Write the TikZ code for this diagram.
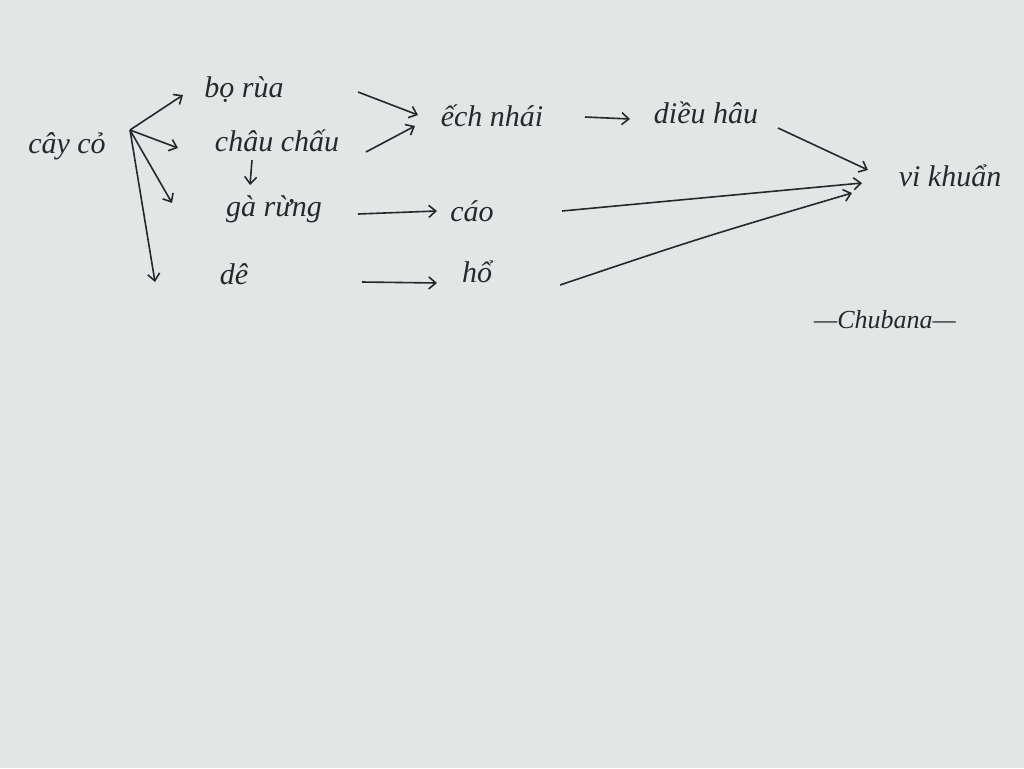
\documentclass[tikz,border=0pt]{standalone}
\usepackage{fontspec}
\setmainfont{Liberation Serif}
\usetikzlibrary{arrows.meta,calc}
\definecolor{paper}{RGB}{228,230,229}
\definecolor{ink}{RGB}{40,40,44}
\begin{document}
\begin{tikzpicture}[x=1pt,y=-1pt,
  lbl/.style={font=\itshape\fontsize{30}{34}\selectfont, text=ink, inner sep=2pt},
  arr/.style={draw=ink, line width=1.6pt, -{Straight Barb[length=7pt,width=12pt]}}]
\fill[paper] (0,0) rectangle (1024,768);
\useasboundingbox (0,0) rectangle (1024,768);
% nodes
\node[lbl] (cayco) at (67,146) {cây cỏ};
\node[lbl] (borua) at (244,90) {bọ rùa};
\node[lbl] (chauchau) at (277,141) {châu chấu};
\node[lbl] (garung) at (274,209) {gà rừng};
\node[lbl] (de) at (234,274) {dê};
\node[lbl] (echnhai) at (492,116) {ếch nhái};
\node[lbl] (dieuhau) at (706,113) {diều hâu};
\node[lbl] (cao) at (472,211) {cáo};
\node[lbl] (ho) at (477,272) {hổ};
\node[lbl] (vikhuan) at (950,176) {vi khuẩn};
\node[lbl, font=\itshape\fontsize{26}{30}\selectfont] (sig) at (885,320) {—Chubana—};
% hub of cây cỏ
\coordinate (hub) at (130,130);
\draw[arr] (hub) -- ($(borua)+(-61,5)$);
\draw[arr] (hub) -- ($(chauchau)+(-99,7)$);
\draw[arr] (hub) -- ($(garung)+(-102,-6)$);
\draw[arr] (hub) -- ($(de)+(-79,8)$);
\draw[arr] ($(chauchau)+(-25,19)$) -- ($(garung)+(-24,-24)$);
% to ếch nhái
\draw[arr] ($(borua)+(114,2)$) -- ($(echnhai)+(-74,-1)$);
\draw[arr] ($(chauchau)+(89,11)$) -- ($(echnhai)+(-77,10)$);
\draw[arr] ($(echnhai)+(93,1)$) -- ($(dieuhau)+(-76,6)$);
\draw[arr] ($(dieuhau)+(72,15)$) -- ($(vikhuan)+(-82,-6)$);
\draw[arr] ($(garung)+(84,5)$) -- ($(cao)+(-35,0)$);
\draw[arr] ($(de)+(128,8)$) -- ($(ho)+(-40,11)$);
\draw[arr] ($(cao)+(90,0)$) -- ($(vikhuan)+(-88,7)$);
\draw[arr] ($(ho)+(83,13)$) .. controls (700,238) .. ($(vikhuan)+(-98,17)$);
\end{tikzpicture}
\end{document}
